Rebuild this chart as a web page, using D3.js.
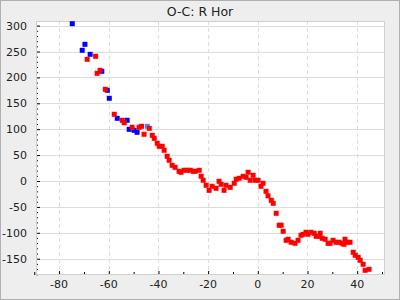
<!DOCTYPE html>
<html>
<head>
<meta charset="utf-8">
<script src="https://cdn.jsdelivr.net/npm/d3@7"></script>
<style>
  body { margin: 0; background: #fff; }
  text { font-family: "DejaVu Sans", sans-serif; fill: #222; }
</style>
</head>
<body>
<div id="chart"></div>
<script>
// O-C values (cycle, days)
const blueX = [-74.7, -70.7, -69.6, -67.5, -62.8, -60.6, -59.8, -56.6, -52.6, -51.8, -49.8, -48.6];
const blueY = [303.7, 252.3, 263.9, 244.6, 211.8, 175.1, 159.7, 121.0, 117.2, 99.8, 97.9, 94.0];

const lightX = [-44.5];
const lightY = [105.6];

const redX = [-68.7, -65.3, -64.7, -63.5, -61.4, -57.8, -54.6, -53.8, -50.6, -47.8, -46.8, -45.8, -43.7, -42.5,
  -41.7, -40.5, -39.7, -38.5, -37.7, -36.5, -35.7, -34.5, -33.3, -31.7, -30.9, -29.7, -28.5, -27.2, -26.0, -25.2,
  -23.6, -22.8, -22.0, -20.8, -19.6, -18.4, -16.8, -15.6, -14.8, -13.6, -12.8, -11.1, -9.5, -8.7, -7.5, -5.9,
  -4.7, -3.9, -3.1, -1.9, -1.1, 0.1, 1.3, 2.1, 3.3, 4.1, 5.4, 6.2, 7.4, 8.6, 9.4, 10.2, 11.4, 12.2, 13.4, 15.0,
  16.2, 17.4, 18.2, 19.4, 20.2, 21.4, 22.7, 23.5, 24.7, 25.1, 25.9, 27.1, 28.3, 29.1, 30.3, 31.5, 32.7, 33.9,
  34.7, 35.1, 35.9, 37.1, 38.4, 39.2, 40.4, 41.2, 42.4, 43.2, 44.8];
const redY = [234.9, 240.7, 207.9, 213.7, 177.0, 128.8, 117.2, 112.5, 103.7, 103.7, 105.6, 90.2, 101.7, 88.2,
  82.4, 72.8, 67.0, 67.0, 59.3, 47.7, 40.0, 30.3, 26.4, 18.7, 16.8, 20.7, 20.7, 20.7, 18.7, 18.7,
  20.7, 9.1, 1.4, -8.3, -18.0, -10.2, -14.1, -0.6, -6.4, -18.0, -8.3, -12.2, -4.4, 3.3, 5.2, 9.1,
  7.1, 16.8, 1.4, 11.0, 1.4, 1.4, -10.2, -4.4, -19.9, -28.6, -37.3, -43.1, -62.4, -85.5, -85.5, -97.1, -114.5, -112.5, -118.3, -120.3,
  -114.5, -104.8, -102.9, -99.0, -102.9, -99.0, -101.0, -106.8, -106.8, -101.0, -110.6, -112.5, -120.3, -120.3, -114.5, -118.3, -118.3, -120.3,
  -122.2, -112.5, -118.3, -118.3, -137.6, -143.4, -147.3, -153.1, -160.8, -172.4, -170.5];

const xMajor = [-80, -60, -40, -20, 0, 20, 40];
const yMajor = [-150, -100, -50, 0, 50, 100, 150, 200, 250, 300];

const W = 400, H = 300;
const plot = {left: 36, right: 385, top: 21, bottom: 275};

const svg = d3.select("#chart").append("svg")
  .attr("width", W)
  .attr("height", H);

svg.append("rect")
  .attr("x", 0.5).attr("y", 0.5)
  .attr("width", W - 1).attr("height", H - 1)
  .attr("fill", "#eeeeee")
  .attr("stroke", "#b0b0b0");

const x = d3.scaleLinear().domain([-89.3, 51.2]).range([plot.left, plot.right]);
const y = d3.scaleLinear().domain([-181.5, 308.9]).range([plot.bottom, plot.top]);

svg.append("rect")
  .attr("x", plot.left).attr("y", plot.top)
  .attr("width", plot.right - plot.left).attr("height", plot.bottom - plot.top)
  .attr("fill", "#fff");

// grid
svg.append("g").selectAll("line").data(yMajor).enter().append("line")
  .attr("x1", plot.left).attr("x2", plot.right)
  .attr("y1", d => Math.round(y(d)) + 0.5).attr("y2", d => Math.round(y(d)) + 0.5)
  .attr("stroke", "#dcdcdc");
svg.append("g").selectAll("line").data(xMajor).enter().append("line")
  .attr("y1", plot.top).attr("y2", plot.bottom)
  .attr("x1", d => Math.round(x(d)) + 0.5).attr("x2", d => Math.round(x(d)) + 0.5)
  .attr("stroke", "#dcdcdc")
  .attr("stroke-dasharray", "4,3");

// axes, ticks pointing into the plot
const xAxis = d3.axisTop(x).tickValues(xMajor).tickSize(4).tickFormat("");
const xMinor = d3.axisTop(x).tickValues(d3.range(-90, 51, 10).filter(v => v % 20 !== 0)).tickSize(3).tickFormat("");
const yAxis = d3.axisRight(y).tickValues(yMajor).tickSize(4).tickFormat("");
const yMinor = d3.axisRight(y).tickValues(d3.range(-180, 310, 10).filter(v => v % 50 !== 0)).tickSize(2).tickFormat("");

[[xAxis, `translate(0,${plot.bottom})`], [xMinor, `translate(0,${plot.bottom})`],
 [yAxis, `translate(${plot.left},0)`], [yMinor, `translate(${plot.left},0)`]].forEach(([ax, tr]) => {
  const g = svg.append("g").attr("transform", tr).call(ax);
  g.select(".domain").remove();
  g.selectAll("line").attr("stroke", "#000");
});

// tick labels
svg.append("g").selectAll("text").data(xMajor).enter().append("text")
  .attr("x", d => x(d)).attr("y", 288)
  .attr("text-anchor", "middle")
  .attr("font-size", 11)
  .text(d => d);
svg.append("g").selectAll("text").data(yMajor).enter().append("text")
  .attr("x", 27).attr("y", d => y(d) + 4)
  .attr("text-anchor", "end")
  .attr("font-size", 11)
  .text(d => d);

// plot border
svg.append("rect")
  .attr("x", plot.left + 0.5).attr("y", plot.top + 0.5)
  .attr("width", plot.right - plot.left - 1).attr("height", plot.bottom - plot.top - 1)
  .attr("fill", "none")
  .attr("stroke", "#d0d0d0");

// points
const drawSeries = (xs, ys, color) => {
  svg.append("g").selectAll("rect").data(xs).enter().append("rect")
    .attr("x", (d) => x(d) - 2.5)
    .attr("y", (d, i) => y(ys[i]) - 2.5)
    .attr("width", 5).attr("height", 5)
    .attr("fill", color);
};
drawSeries(blueX, blueY, "#0000ff");
drawSeries(lightX, lightY, "#3d8fff");
drawSeries(redX, redY, "#ff0000");

svg.append("text")
  .attr("x", 200).attr("y", 16)
  .attr("text-anchor", "middle")
  .attr("font-size", 12.5)
  .text("O-C: R Hor");
</script>
</body>
</html>
